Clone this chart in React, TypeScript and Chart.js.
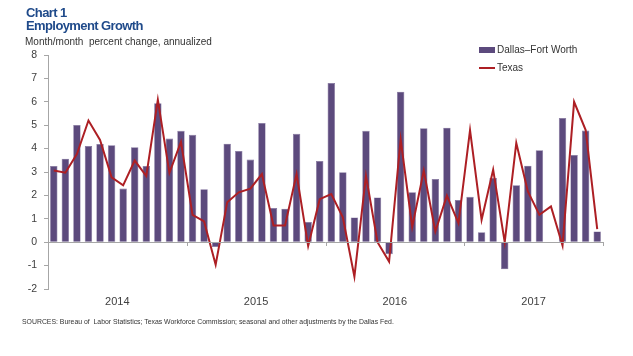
import React, { useEffect, useRef } from "react";
import { Chart, registerables } from "chart.js";

Chart.register(...registerables);

const months: string[] = [];
const years = ["2014", "2015", "2016", "2017"];
const monthNames = ["Jan", "Feb", "Mar", "Apr", "May", "Jun", "Jul", "Aug", "Sep", "Oct", "Nov", "Dec"];
years.forEach((y) => monthNames.forEach((m) => months.push(`${m} ${y}`)));

const dfw = [
  3.26, 3.57, 5.01, 4.11, 4.2, 4.14, 2.29, 4.06, 3.26, 5.94, 4.43, 4.76,
  4.59, 2.26, -0.21, 4.21, 3.9, 3.53, 5.09, 1.46, 1.43, 4.63, 0.86, 3.47,
  6.8, 2.99, 1.06, 4.76, 1.91, -0.51, 6.43, 2.13, 4.87, 2.7, 4.89, 1.8,
  1.94, 0.43, 2.74, -1.16, 2.43, 3.27, 3.93, -0.03, 5.31, 3.73, 4.77, 0.46,
];

const texas = [
  3.06, 2.97, 3.77, 5.2, 4.37, 2.77, 2.43, 3.49, 2.83, 6.09, 2.96, 4.29,
  1.17, 0.89, -0.96, 1.71, 2.13, 2.29, 2.91, 0.71, 0.71, 2.91, -0.16, 1.84,
  2.06, 1.06, -1.47, 2.84, 0.0, -0.83, 4.39, 0.65, 3.06, 0.46, 1.99, 0.81,
  4.79, 0.96, 3.1, 0.0, 4.24, 2.17, 1.17, 1.53, -0.14, 6.0, 4.79, 0.56,
];

const yTicks = [-2, -1, 0, 1, 2, 3, 4, 5, 6, 7, 8];

const BAR = "#5C4A7D";
const LINE = "#AD1F24";
const FONT = "'Liberation Sans', Arial, sans-serif";

const axisPlugin = {
  id: "zeroAxis",
  afterDatasetsDraw(chart: any) {
    const { ctx, chartArea, scales } = chart;
    const x = scales.x;
    const y = scales.y;
    const y0 = y.getPixelForValue(0);
    ctx.save();
    ctx.strokeStyle = "#A6A6A6";
    ctx.lineWidth = 1;
    ctx.beginPath();
    ctx.moveTo(chartArea.left, Math.round(y0) + 0.5);
    ctx.lineTo(chartArea.right, Math.round(y0) + 0.5);
    ctx.stroke();
    for (let i = 12; i <= months.length; i += 12) {
      const px =
        i < months.length
          ? (x.getPixelForValue(i - 1) + x.getPixelForValue(i)) / 2
          : chartArea.right;
      ctx.beginPath();
      ctx.moveTo(Math.round(px) + 0.5, Math.round(y0));
      ctx.lineTo(Math.round(px) + 0.5, Math.round(y0) + 4);
      ctx.stroke();
    }
    ctx.restore();
  },
};

export default function App() {
  const ref = useRef<HTMLCanvasElement | null>(null);

  useEffect(() => {
    document.body.style.margin = "0";
    const canvas = ref.current;
    if (!canvas) return;
    const chart = new Chart(canvas, {
      type: "bar",
      data: {
        labels: months,
        datasets: [
          {
            type: "line",
            label: "Texas",
            data: texas,
            borderColor: LINE,
            backgroundColor: LINE,
            borderWidth: 2,
            pointRadius: 0,
            tension: 0,
            order: 0,
          } as any,
          {
            type: "bar",
            label: "Dallas–Fort Worth",
            data: dfw,
            backgroundColor: BAR,
            borderColor: "#7E6F9A",
            borderWidth: 0.6,
            barPercentage: 0.64,
            categoryPercentage: 1,
            order: 1,
          },
        ],
      },
      options: {
        animation: false,
        responsive: false,
        maintainAspectRatio: false,
        layout: { padding: { top: 55, right: 30, left: 0, bottom: 0 } },
        plugins: { legend: { display: false }, tooltip: { enabled: false } },
        scales: {
          x: {
            offset: true,
            grid: { display: false },
            border: { display: false },
            afterFit: (s: any) => {
              s.height = 67;
            },
            ticks: {
              autoSkip: false,
              maxRotation: 0,
              minRotation: 0,
              padding: -2,
              labelOffset: -5.8,
              color: "#404040",
              font: { family: FONT, size: 11 },
              callback: (_v: any, i: number) => (i % 12 === 6 ? years[Math.floor(i / 12)] : ""),
            },
          },
          y: {
            min: -2,
            max: 8,
            afterFit: (s: any) => {
              s.width = 48;
            },
            afterBuildTicks: (s: any) => {
              s.ticks = yTicks.map((v) => ({ value: v }));
            },
            grid: {
              drawOnChartArea: false,
              drawTicks: true,
              tickLength: 4,
              color: "#A6A6A6",
            },
            border: { display: true, color: "#A6A6A6" },
            ticks: {
              padding: 7,
              color: "#404040",
              font: { family: FONT, size: 10.5 },
            },
          },
        },
      },
      plugins: [axisPlugin],
    });
    return () => chart.destroy();
  }, []);

  const text: React.CSSProperties = { position: "absolute", fontFamily: FONT, whiteSpace: "pre" };

  return (
    <div style={{ position: "relative", width: 633, height: 356, background: "#fff" }}>
      <canvas ref={ref} width={633} height={356} style={{ position: "absolute", left: 0, top: 0 }} />
      <div style={{ ...text, left: 26, top: 6, fontSize: 13, fontWeight: "bold", color: "#1F4A8A", lineHeight: "13px", letterSpacing: -0.6 }}>
        {"Chart 1\nEmployment Growth"}
      </div>
      <div style={{ ...text, left: 25, top: 36, fontSize: 10, color: "#333" }}>
        {"Month/month  percent change, annualized"}
      </div>
      <div style={{ ...text, left: 479, top: 44, fontSize: 10, color: "#333", lineHeight: "12px" }}>
        <span style={{ display: "inline-block", width: 16, height: 6, background: BAR, verticalAlign: "middle", marginRight: 2 }} />
        {"Dallas–Fort Worth"}
      </div>
      <div style={{ ...text, left: 479, top: 62, fontSize: 10, color: "#333", lineHeight: "12px" }}>
        <span style={{ display: "inline-block", width: 16, height: 2, background: LINE, verticalAlign: "middle", marginRight: 2 }} />
        {"Texas"}
      </div>
      <div style={{ ...text, left: 22, top: 317, fontSize: 8, color: "#333", transform: "scaleX(0.86)", transformOrigin: "left top" }}>
        {"SOURCES: Bureau of  Labor Statistics; Texas Workforce Commission; seasonal and other adjustments by the Dallas Fed."}
      </div>
    </div>
  );
}
